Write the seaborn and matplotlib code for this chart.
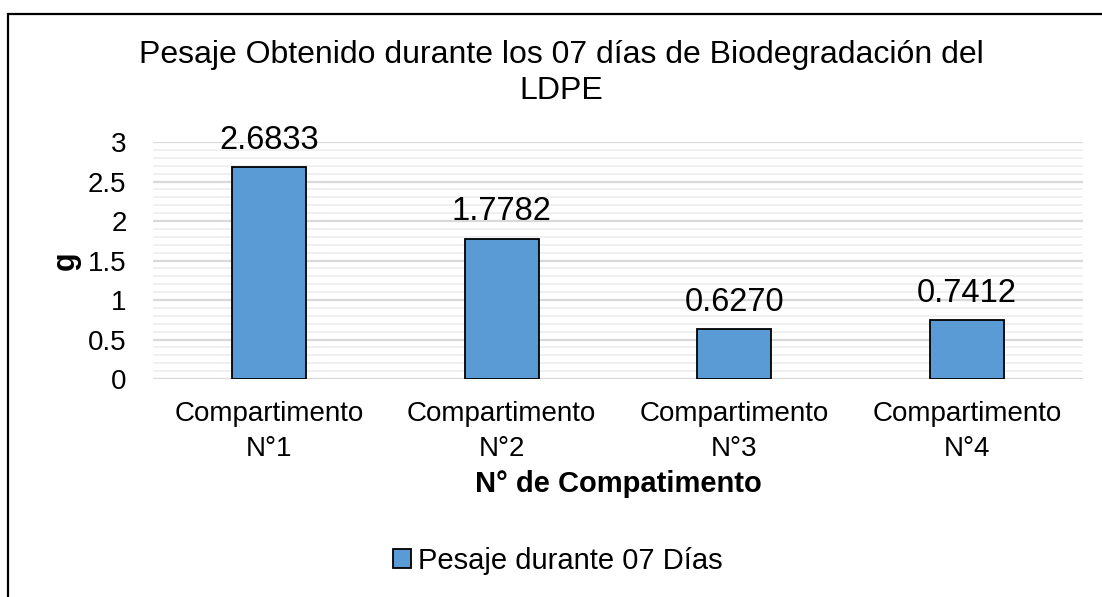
import numpy as np
import pandas as pd
import matplotlib
matplotlib.use('Agg')
import matplotlib.pyplot as plt
from matplotlib.patches import Rectangle
from matplotlib.ticker import MultipleLocator
import seaborn as sns

# DATA
categories = ['Compartimento\nN°1', 'Compartimento\nN°2', 'Compartimento\nN°3', 'Compartimento\nN°4']
pesaje = [2.6833, 1.7782, 0.6270, 0.7412]
value_labels = ['2.6833', '1.7782', '0.6270', '0.7412']
series_name = 'Pesaje durante 07 Días'

# GRAPH SPECS
W, H = 1102, 597
bar_color = '#5B9BD5'
sns.set_style('white')
plt.rcParams['font.family'] = ['Liberation Sans', 'DejaVu Sans']
for k in ['text.color', 'axes.labelcolor', 'xtick.color', 'ytick.color']:
    plt.rcParams[k] = 'black'

df = pd.DataFrame({'comp': categories, 'g': pesaje})

fig = plt.figure(figsize=(W / 100, H / 100), dpi=100)
ax = fig.add_axes([153 / W, 1 - 379 / H, 930 / W, 237 / H])

sns.barplot(data=df, x='comp', y='g', color=bar_color, saturation=1,
            edgecolor='black', linewidth=1.3, width=0.32, ax=ax)

# GRIDLINES
ax.set_ylim(0, 3)
ax.yaxis.set_major_locator(MultipleLocator(0.5))
ax.yaxis.set_minor_locator(MultipleLocator(0.1))
ax.grid(True, axis='y', which='major', color='#d9d9d9', lw=1.6)
ax.grid(True, axis='y', which='minor', color='#efefef', lw=1.3)
ax.set_axisbelow(True)
for s in ax.spines.values():
    s.set_visible(False)
ax.set_yticks([0, 0.5, 1, 1.5, 2, 2.5, 3])
ax.set_yticklabels(['0', '0.5', '1', '1.5', '2', '2.5', '3'])
ax.tick_params(axis='y', which='both', length=0, pad=19, labelsize=20)
ax.tick_params(axis='x', length=0, pad=16, labelsize=20)
for t in ax.get_xticklabels():
    t.set_linespacing(1.45)

# DATA LABELS
ax.bar_label(ax.containers[0], labels=value_labels, padding=8, fontsize=23.5)

# AXIS LABELS
ax.set_xlabel('N° de Compatimento', fontsize=21, fontweight='bold')
ax.xaxis.label.set_va('center')
ax.xaxis.set_label_coords(0.5, (379 - 484) / 237)
ax.set_ylabel('g', fontsize=22, fontweight='bold')
ax.yaxis.label.set_va('center')
ax.yaxis.set_label_coords((66 - 153) / 930, 0.5)

# TITLE
fig.text(561 / W, 1 - 73 / H,
         'Pesaje Obtenido durante los 07 días de Biodegradación del\nLDPE',
         ha='center', va='center', fontsize=23, linespacing=1.3)

# LEGEND
fig.legend(handles=[ax.patches[0]], labels=[series_name], loc='center',
           bbox_to_anchor=(558 / W, 1 - 561 / H), frameon=False, fontsize=21,
           handlelength=0.6, handleheight=0.6, handletextpad=0.25)

# OUTER BORDER
fig.patches.append(Rectangle((8 / W, -0.1), 1.2, 1.1 - 14 / H, transform=fig.transFigure,
                             fill=False, edgecolor='black', lw=1.6, figure=fig))

plt.savefig('out.png', dpi=100)
